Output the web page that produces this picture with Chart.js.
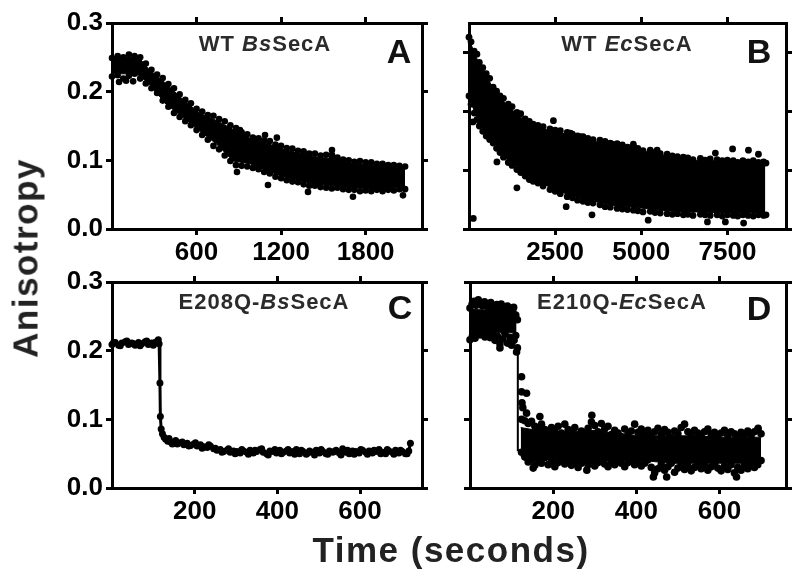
<!DOCTYPE html>
<html><head><meta charset="utf-8">
<script src="https://cdn.jsdelivr.net/npm/chart.js@4.4.1/dist/chart.umd.min.js"></script>
<style>
html,body{margin:0;padding:0;background:#fff;}
#wrap{position:relative;width:800px;height:586px;overflow:hidden;font-family:"Liberation Sans",Arial,sans-serif;}
canvas{position:absolute;left:0;top:0;pointer-events:none;}
.lbl{position:absolute;line-height:1;white-space:nowrap;font-weight:bold;transform:translate(-50%,-50%);}
.ttl{font-size:22px;letter-spacing:1px;color:#2b2b2b;}
.let{font-size:34px;color:#111;}
.axt{font-size:35px;color:#222;}
</style></head>
<body><div id="wrap">
<canvas id="cA" width="800" height="586"></canvas>
<canvas id="cB" width="800" height="586"></canvas>
<canvas id="cC" width="800" height="586"></canvas>
<canvas id="cD" width="800" height="586"></canvas>
<div class="lbl ttl" style="left:265px;top:44px">WT <i>Bs</i>SecA</div>
<div class="lbl ttl" style="left:627px;top:44px">WT <i>Ec</i>SecA</div>
<div class="lbl ttl" style="left:264px;top:302px">E208Q-<i>Bs</i>SecA</div>
<div class="lbl ttl" style="left:622px;top:302px">E210Q-<i>Ec</i>SecA</div>
<div class="lbl let" style="left:399px;top:51px">A</div>
<div class="lbl let" style="left:759px;top:51px">B</div>
<div class="lbl let" style="left:400px;top:307px">C</div>
<div class="lbl let" style="left:759px;top:308px">D</div>
<div class="lbl axt" style="left:25px;top:258px;transform:translate(-50%,-50%) rotate(-90deg);letter-spacing:1.5px;">Anisotropy</div>
<div class="lbl axt" style="left:451px;top:549px;letter-spacing:1.5px;">Time (seconds)</div>
</div>
<script>
// ---------- shared tick values ----------
const anisoTicks = [0, 0.1, 0.2, 0.3];
const aTimeTicks = [600, 1200, 1800];
const bTimeTicks = [2500, 5000, 7500];
const cTimeTicks = [200, 400, 600];
const dTimeTicks = [200, 400, 600];

// ---------- Panel A : WT BsSecA ----------
const aCoreTime = [0,100,190,264,383,500,620,740,860,980,1100,1215,1335,1455,1570,1690,1810,1930,2080];
const aCoreHigh = [.248,.250,.250,.232,.212,.189,.169,.158,.145,.132,.125,.116,.110,.105,.102,.096,.094,.091,.089];
const aCoreLow  = [.226,.226,.224,.211,.182,.163,.143,.124,.099,.095,.085,.076,.070,.065,.063,.060,.059,.059,.061];
const aEdgeTime = [0,40,80,120,160,200,240,280,320,360,400,440,480,520,560,600,640,680,720,760,800,840,880,920,960,1000,1040,1080,1120,1160,1200,1240,1280,1320,1360,1400,1440,1480,1520,1560,1600,1640,1680,1720,1760,1800,1840,1880,1920,1960,2000,2040,2080];
const aUpper = [.249,.252,.250,.254,.252,.250,.241,.232,.225,.220,.211,.205,.196,.188,.183,.175,.171,.166,.165,.160,.157,.151,.147,.141,.138,.133,.132,.129,.128,.123,.121,.118,.117,.114,.113,.110,.110,.107,.108,.105,.104,.101,.100,.098,.099,.097,.097,.095,.095,.093,.093,.092,.091];
const aLower = [.222,.224,.219,.223,.226,.219,.212,.205,.198,.187,.178,.169,.163,.157,.151,.144,.137,.130,.121,.116,.107,.099,.093,.092,.091,.089,.087,.083,.081,.076,.074,.071,.069,.068,.065,.063,.063,.061,.060,.059,.060,.058,.057,.057,.055,.056,.055,.057,.055,.057,.056,.058,.058];
const aOutTime  = [50,100,150,887,908,1086,1170,1107,1391,1561,1561,1710,2065];
const aOutValue = [.214,.216,.215,.083,.144,.137,.133,.064,.054,.115,.108,.047,.049];

// ---------- Panel B : WT EcSecA ----------
const bCoreTime = [0,150,300,500,700,900,1140,1390,1630,1860,2350,2850,3310,3800,4300,4770,5260,5750,6220,6715,7200,7670,8170,8600];
const bCoreHigh = [.323,.300,.280,.262,.238,.223,.209,.195,.184,.175,.167,.161,.153,.147,.141,.136,.130,.124,.119,.116,.116,.113,.113,.110];
const bCoreLow  = [.229,.200,.178,.161,.150,.133,.116,.105,.093,.085,.071,.059,.051,.045,.039,.037,.034,.031,.029,.029,.028,.028,.028,.028];
const bEdgeTime = [0,60,150,230,300,400,500,600,700,800,900,1000,1140,1250,1390,1500,1630,1750,1860,2000,2150,2350,2500,2650,2850,3000,3150,3310,3450,3600,3800,3950,4100,4300,4450,4600,4770,4900,5050,5260,5400,5550,5750,5900,6050,6220,6350,6500,6715,6850,7000,7200,7350,7500,7670,7800,7950,8100,8250,8400,8550,8620];
const bUpper = [.326,.318,.302,.297,.283,.274,.264,.256,.241,.234,.226,.222,.212,.208,.198,.196,.187,.183,.178,.176,.174,.170,.168,.167,.164,.161,.158,.157,.154,.152,.151,.149,.146,.145,.143,.139,.140,.137,.133,.134,.130,.128,.127,.124,.123,.122,.121,.118,.120,.117,.119,.118,.116,.117,.116,.113,.116,.114,.116,.113,.114,.112];
const bLower = [.226,.212,.197,.186,.175,.166,.158,.152,.146,.137,.130,.122,.113,.108,.101,.096,.090,.084,.081,.078,.073,.067,.064,.060,.055,.053,.049,.047,.045,.044,.041,.038,.037,.035,.034,.033,.032,.031,.029,.030,.028,.027,.026,.025,.026,.024,.025,.023,.025,.024,.023,.024,.022,.024,.023,.022,.024,.023,.022,.024,.023,.024];
const bOutTime  = [125,116,810,1390,2450,2820,2940,3230,3570,4160,4770,5200,5460,6920,7150,7440,7650,7970,8110,8400];
const bOutValue = [.018,.182,.114,.070,.184,.038,.163,.157,.024,.144,.144,.015,.134,.012,.129,.012,.136,.010,.134,.127];

// ---------- Panel C : E208Q-BsSecA ----------
const cTime  = [0,8,16,24,32,40,48,56,64,72,80,88,96,104,110,114,116,117,119,122,126,130,135,142,150,158,166,174,182,190,198,206,214,222,230,238,246,254,262,270,278,286,294,302,310,318,326,334,342,350,358,366,374,382,390,398,406,414,422,430,438,446,454,462,470,478,486,494,502,510,518,526,534,542,550,558,566,574,582,590,598,606,614,622,630,638,646,654,662,670,678,686,694,702,710,718,722];
const cValue = [.209,.212,.208,.211,.213,.209,.211,.208,.212,.210,.213,.209,.211,.212,.214,.210,.153,.104,.086,.079,.074,.071,.068,.067,.066,.064,.066,.063,.065,.062,.064,.061,.063,.060,.059,.061,.057,.055,.056,.053,.055,.052,.054,.053,.051,.054,.052,.055,.051,.053,.056,.052,.050,.054,.053,.051,.055,.052,.054,.051,.053,.056,.050,.053,.049,.054,.052,.055,.051,.053,.050,.054,.052,.055,.051,.057,.052,.050,.054,.053,.051,.055,.052,.054,.051,.053,.056,.052,.050,.054,.052,.055,.051,.053,.050,.054,.065];
const cTime2  = [4,20,36,52,68,84,100,112,138,146,154,170,186,202,218,234,250,266,282,298,314,330,346,362,378,394,410,426,442,458,474,490,506,522,538,554,570,586,602,618,634,650,666,682,698,714];
const cValue2 = [.212,.207,.214,.210,.207,.214,.208,.216,.072,.064,.069,.067,.061,.066,.058,.063,.058,.052,.057,.050,.056,.049,.055,.057,.048,.056,.050,.056,.049,.055,.051,.048,.056,.049,.053,.048,.055,.049,.056,.049,.055,.050,.056,.049,.055,.050];

// ---------- Panel D : E210Q-EcSecA ----------
const dHighCoreTime = [3,112];
const dHighCoreHigh = [.260,.258];
const dHighCoreLow  = [.226,.226];
const dHighUpperTime = [0,5,10,15,20,25,30,35,40,45,50,55,60,65,70,75,80,85,90,95,100,105,110,114];
const dHighUpper = [.262,.268,.272,.266,.274,.270,.265,.271,.268,.262,.270,.266,.261,.267,.263,.268,.264,.259,.265,.262,.256,.263,.252,.245];
const dHighLowerTime = [0,6,12,18,24,30,36,42,48,54,60,66,72,78,84,90,96,100,106,110,114];
const dHighLower = [.216,.222,.218,.226,.223,.229,.220,.226,.219,.224,.215,.221,.210,.217,.225,.211,.219,.208,.215,.222,.204];
const dLowCoreTime = [122,180,240,300,360,420,480,540,600,660,700];
const dLowCoreHigh = [.088,.082,.082,.084,.078,.076,.076,.076,.074,.074,.074];
const dLowCoreLow  = [.046,.042,.040,.040,.040,.040,.036,.036,.036,.036,.038];
const dLowEdgeTime = [124,132,140,148,156,164,172,180,188,196,204,212,220,228,236,244,252,260,268,276,284,292,300,308,316,324,332,340,348,356,364,372,380,388,396,404,412,420,428,436,444,452,460,468,476,484,492,500,508,516,524,532,540,548,556,564,572,580,588,596,604,612,620,628,636,644,652,660,668,676,684,692,700];
const dLowUpper = [.100,.098,.094,.097,.090,.086,.093,.085,.079,.088,.082,.090,.080,.093,.085,.080,.088,.076,.083,.079,.087,.096,.091,.082,.094,.086,.090,.078,.084,.080,.075,.086,.079,.083,.093,.081,.086,.079,.084,.076,.082,.087,.078,.085,.081,.074,.083,.079,.088,.093,.082,.076,.084,.080,.075,.082,.086,.078,.081,.074,.080,.084,.077,.082,.079,.075,.081,.078,.083,.076,.082,.085,.079];
const dLowLower = [.052,.045,.038,.042,.033,.040,.036,.044,.034,.039,.031,.037,.042,.035,.040,.033,.038,.030,.036,.041,.034,.039,.032,.037,.043,.035,.031,.038,.034,.040,.036,.031,.037,.042,.034,.038,.032,.036,.041,.030,.022,.028,.034,.026,.031,.036,.023,.029,.034,.027,.032,.025,.030,.035,.028,.033,.026,.031,.036,.029,.025,.032,.027,.034,.022,.030,.026,.033,.028,.035,.030,.034,.040];
const dOutTime  = [124,124,125,127,136,136,168,293,693,441,473,641,152,281,72,112];
const dOutValue = [.162,.140,.124,.117,.138,.109,.104,.106,.087,.016,.016,.016,.029,.026,.204,.198];
const dStepTime  = [115,115,128];
const dStepValue = [.205,.055,.055];

// ---------- helpers ----------
Chart.defaults.font.family = '"Liberation Sans", Arial, sans-serif';
const pts = (xs, ys) => xs.map((x, i) => ({x: x, y: ys[i]}));
function dots(xs, ys, r) {
  return {type: 'scatter', data: pts(xs, ys), pointRadius: r, pointBorderWidth: 0,
          backgroundColor: '#000', pointBackgroundColor: '#000', showLine: false, clip: false};
}
function band(xs, hi, lo) {
  return [
    {type: 'line', data: pts(xs, hi), borderColor: '#000', borderWidth: 1, pointRadius: 0, fill: false, tension: 0, clip: false},
    {type: 'line', data: pts(xs, lo), borderColor: '#000', borderWidth: 1, pointRadius: 0, fill: '-1', backgroundColor: '#000', tension: 0, clip: false}
  ];
}
function trace(xs, ys, r, lw) {
  return {type: 'line', data: pts(xs, ys), borderColor: '#000', borderWidth: lw, pointRadius: r,
          pointBorderWidth: 0, pointBackgroundColor: '#000', fill: false, tension: 0, clip: false};
}
const W = 800, H = 586;
function panel(id, p) {
  const grid = {display: true, drawOnChartArea: false, drawTicks: true, tickLength: 6, tickWidth: 3,
                tickColor: '#000', color: '#000', lineWidth: 3};
  const border = {display: true, color: '#000', width: 3};
  const setTicks = vals => s => { s.ticks = vals.map(v => ({value: v})); };
  const tickFont = {size: 26, weight: 'bold'};
  new Chart(document.getElementById(id), {
    type: 'scatter',
    data: {datasets: p.datasets},
    options: {
      responsive: false, animation: false, events: [], devicePixelRatio: 1,
      layout: {padding: 0},
      plugins: {legend: {display: false}, tooltip: {enabled: false}, title: {display: false}},
      scales: {
        x: {type: 'linear', position: 'bottom', min: 0, max: p.xMax, grid: grid, border: border,
            afterBuildTicks: setTicks(p.xTicks), afterFit: s => { s.height = H - p.bottom; },
            ticks: {color: '#000', font: tickFont, padding: 2, maxRotation: 0, autoSkip: false,
                    callback: v => String(v)}},
        x2: {type: 'linear', position: 'top', min: 0, max: p.xMax, grid: grid, border: border,
            afterBuildTicks: setTicks(p.xTicks), afterFit: s => { s.height = p.top; },
            ticks: {display: false}},
        y: {type: 'linear', position: 'left', min: 0, max: p.yMax, grid: grid, border: border,
            afterBuildTicks: setTicks(anisoTicks), afterFit: s => { s.width = p.left; },
            ticks: {display: p.yLabels, color: '#000', font: tickFont, padding: 3,
                    callback: v => Number(v).toFixed(1)}},
        y2: {type: 'linear', position: 'right', min: 0, max: p.yMax, grid: grid, border: border,
            afterBuildTicks: setTicks(anisoTicks), afterFit: s => { s.width = W - p.right; },
            ticks: {display: false}}
      }
    }
  });
}

panel('cA', {xMax: 2200, yMax: 0.3, xTicks: aTimeTicks, yLabels: true, left: 112, right: 422, top: 23, bottom: 229,
  datasets: [...band(aCoreTime, aCoreHigh, aCoreLow), dots(aEdgeTime, aUpper, 3.3), dots(aEdgeTime, aLower, 3.3), dots(aOutTime, aOutValue, 3.3)]});
panel('cB', {xMax: 9200, yMax: 0.35, xTicks: bTimeTicks, yLabels: false, left: 469, right: 786, top: 23, bottom: 229,
  datasets: [...band(bCoreTime, bCoreHigh, bCoreLow), dots(bEdgeTime, bUpper, 3.4), dots(bEdgeTime, bLower, 3.4), dots(bOutTime, bOutValue, 3.4)]});
panel('cC', {xMax: 750, yMax: 0.3, xTicks: cTimeTicks, yLabels: true, left: 112, right: 422, top: 282, bottom: 488,
  datasets: [trace(cTime, cValue, 3.5, 3), dots(cTime2, cValue2, 3.5)]});
panel('cD', {xMax: 760, yMax: 0.3, xTicks: dTimeTicks, yLabels: false, left: 470, right: 786, top: 282, bottom: 488,
  datasets: [...band(dHighCoreTime, dHighCoreHigh, dHighCoreLow), ...band(dLowCoreTime, dLowCoreHigh, dLowCoreLow),
             trace(dStepTime, dStepValue, 0, 2),
             dots(dHighUpperTime, dHighUpper, 3.8), dots(dHighLowerTime, dHighLower, 3.8),
             dots(dLowEdgeTime, dLowUpper, 3.8), dots(dLowEdgeTime, dLowLower, 3.8), dots(dOutTime, dOutValue, 3.8)]});
</script>
</body></html>
